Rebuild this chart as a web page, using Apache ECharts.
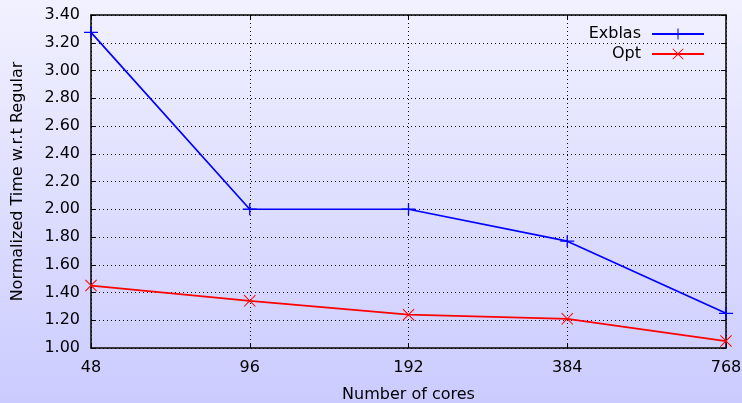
<!DOCTYPE html>
<html><head><meta charset="utf-8">
<script src="https://cdn.jsdelivr.net/npm/echarts@6/dist/echarts.min.js"></script>
<style>html,body{margin:0;padding:0;}#c{width:742px;height:403px;}</style>
</head><body><div id="c"></div>
<script>
const categories = ['48','96','192','384','768'];
const exblas = [3.275, 2.00, 2.00, 1.77, 1.25];
const opt = [1.45, 1.34, 1.24, 1.21, 1.05];
const yTicks = {min: 1.0, max: 3.4, interval: 0.2};

const plusPath = 'path://M0,4.35L14,4.35L14,5.65L0,5.65Z M6.35,-1L7.65,-1L7.65,11L6.35,11Z';
const crossPath = 'path://M0.7,0L6,5.3L11.3,0L12,0.7L6.7,6L12,11.3L11.3,12L6,6.7L0.7,12L0,11.3L5.3,6L0,0.7Z';
const font = 'DejaVu Sans';
const chart = echarts.init(document.getElementById('c'), null, {renderer: 'canvas'});
const axisLine = {show: true, lineStyle: {color: '#000', width: 1.5}};
const splitLine = {show: true, lineStyle: {color: '#000', type: [1, 3], width: 1}};
chart.setOption({
  backgroundColor: {type: 'linear', x: 0, y: 0, x2: 0, y2: 1,
    colorStops: [{offset: 0, color: '#f1f1ff'}, {offset: 1, color: '#cbcbff'}]},
  textStyle: {fontFamily: font},
  animation: false,
  grid: {left: 91, right: 16, top: 15, bottom: 55, outerBoundsMode: 'none', containLabel: false},
  legend: {
    right: 37, top: 26, padding: 0, orient: 'vertical', align: 'right',
    itemWidth: 52, itemHeight: 14, itemGap: 4,
    textStyle: {fontFamily: font, fontSize: 16, color: '#000', padding: [0, 6, 0, 0]},
    data: ['Exblas', 'Opt']
  },
  xAxis: [{
    type: 'category', data: categories, boundaryGap: false,
    name: 'Number of cores', nameLocation: 'middle', nameGap: 39,
    nameTextStyle: {fontFamily: font, fontSize: 16, color: '#000'},
    axisLine: axisLine,
    axisTick: {show: true, inside: true, length: 5, lineStyle: {color: '#000'}},
    axisLabel: {fontFamily: font, fontSize: 16, color: '#000', margin: 12},
    splitLine: splitLine
  }, {
    type: 'category', data: categories, boundaryGap: false, position: 'top',
    axisLine: axisLine,
    axisTick: {show: true, inside: true, length: 5, lineStyle: {color: '#000'}},
    axisLabel: {show: false}, splitLine: {show: false}
  }],
  yAxis: [{
    type: 'value', min: yTicks.min, max: yTicks.max, interval: yTicks.interval,
    name: 'Normalized Time w.r.t Regular', nameLocation: 'middle', nameGap: 65,
    nameTextStyle: {fontFamily: font, fontSize: 16, color: '#000'},
    axisLine: axisLine,
    axisTick: {show: true, inside: true, length: 5, lineStyle: {color: '#000'}},
    axisLabel: {fontFamily: font, fontSize: 16, color: '#000', margin: 11,
      formatter: v => v.toFixed(2)},
    splitLine: splitLine
  }, {
    type: 'value', min: yTicks.min, max: yTicks.max, interval: yTicks.interval, position: 'right',
    axisLine: axisLine,
    axisTick: {show: true, inside: true, length: 5, lineStyle: {color: '#000'}},
    axisLabel: {show: false}, splitLine: {show: false}
  }],
  series: [{
    name: 'Exblas', type: 'line', data: exblas,
    symbol: plusPath, symbolSize: [14, 12], symbolKeepAspect: false,
    lineStyle: {color: '#0000ff', width: 1.7},
    itemStyle: {color: '#0000ff'}
  }, {
    name: 'Opt', type: 'line', data: opt,
    symbol: crossPath, symbolSize: [12, 12],
    lineStyle: {color: '#ff0000', width: 1.7},
    itemStyle: {color: '#ff0000'}
  }]
});
</script>
</body></html>
